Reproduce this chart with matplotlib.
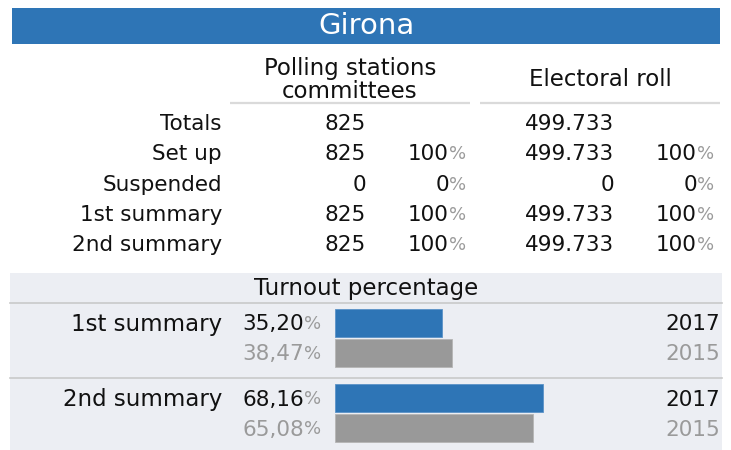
import matplotlib
matplotlib.use('Agg')
import matplotlib.pyplot as plt
from matplotlib.patches import Rectangle

plt.rcParams['font.family'] = ['DejaVu Sans']

# data
region = 'Girona'
row_labels = ['Totals', 'Set up', 'Suspended', '1st summary', '2nd summary']
committees = [825, 825, 0, 825, 825]
committees_pct = [None, 100, 0, 100, 100]
roll = [499733, 499733, 0, 499733, 499733]
roll_pct = [None, 100, 0, 100, 100]

turnout_labels = ['1st summary', '2nd summary']
turnout_2017 = [35.20, 68.16]
turnout_2015 = [38.47, 65.08]
years = ['2017', '2015']

BLUE = '#2E75B6'
GREY_BAR = '#999999'
GREY_TXT = '#9A9A9A'
PANEL = '#ECEEF3'
LINE = '#C9C9C9'
INK = '#111111'

W, H = 731, 450
fig = plt.figure(figsize=(W / 100, H / 100), dpi=100)
ax = fig.add_axes([0, 0, 1, 1])
ax.set_xlim(0, W)
ax.set_ylim(H, 0)
ax.axis('off')

fs = 15.5
fs_head = 16.5
renderer = fig.canvas.get_renderer()


def thousands(v):
    return f'{v:,}'.replace(',', '.')


def with_pct(x, y, num, color=INK, pct_color=GREY_TXT, size=fs):
    # grey, smaller % sign after the number
    p = ax.text(x, y, '%', ha='right', va='center', fontsize=size - 2.5, color=pct_color)
    bb = p.get_window_extent(renderer)
    ax.text(x - bb.width, y, num, ha='right', va='center', fontsize=size, color=color)


# title bar
ax.add_patch(Rectangle((12, 8), 708, 36, color=BLUE, lw=0))
ax.text(366, 26, region, ha='center', va='center', color='white', fontsize=21)

# column headers
ax.text(350, 80, 'Polling stations\ncommittees', ha='center', va='center',
        fontsize=fs_head, linespacing=1.0, color=INK)
ax.text(600, 80, 'Electoral roll', ha='center', va='center', fontsize=fs_head, color=INK)
ax.plot([230, 470], [103, 103], color='#DADADA', lw=1.6, solid_capstyle='butt')
ax.plot([480, 720], [103, 103], color='#DADADA', lw=1.6, solid_capstyle='butt')

# table rows
for i, lab in enumerate(row_labels):
    y = 124 + i * 30.3
    ax.text(222, y, lab, ha='right', va='center', fontsize=fs, color=INK)
    ax.text(366, y, str(committees[i]), ha='right', va='center', fontsize=fs, color=INK)
    if committees_pct[i] is not None:
        with_pct(466, y, str(committees_pct[i]))
    ax.text(614, y, thousands(roll[i]), ha='right', va='center', fontsize=fs, color=INK)
    if roll_pct[i] is not None:
        with_pct(714, y, str(roll_pct[i]))

# turnout panel
ax.add_patch(Rectangle((10, 273), 712, 177, color=PANEL, lw=0, zorder=0))
ax.text(366, 289, 'Turnout percentage', ha='center', va='center', fontsize=fs_head, color=INK)
ax.plot([10, 722], [303, 303], color=LINE, lw=1.2)
ax.plot([10, 722], [378, 378], color=LINE, lw=1.2)

for g, lab in enumerate(turnout_labels):
    y1 = 324 + g * 75.5
    y2 = y1 + 30
    ax.text(222, y1, lab, ha='right', va='center', fontsize=fs_head, color=INK)
    with_pct(321, y1, f'{turnout_2017[g]:.2f}'.replace('.', ','))
    with_pct(321, y2, f'{turnout_2015[g]:.2f}'.replace('.', ','),
             color=GREY_TXT)
    ax.text(720, y1, years[0], ha='right', va='center', fontsize=fs, color=INK)
    ax.text(720, y2, years[1], ha='right', va='center', fontsize=fs, color=GREY_TXT)

# bars: 100% = 305 px, rows spaced 30 px
bx = fig.add_axes([335 / W, (H - 443) / H, 305 / W, 135 / H])
bx.set_xlim(0, 100)
bx.set_ylim(4.0, -0.5)
bx.axis('off')
pos17 = [g * 2.5 for g in range(len(turnout_labels))]
pos15 = [p + 1 for p in pos17]
bx.barh(pos17, turnout_2017, height=0.92, color=BLUE, edgecolor='#5B93C7', lw=0.6)
bx.barh(pos15, turnout_2015, height=0.92, color=GREY_BAR, edgecolor='#B5B5B5', lw=0.6)

fig.savefig('out.png', dpi=100, facecolor='white')
